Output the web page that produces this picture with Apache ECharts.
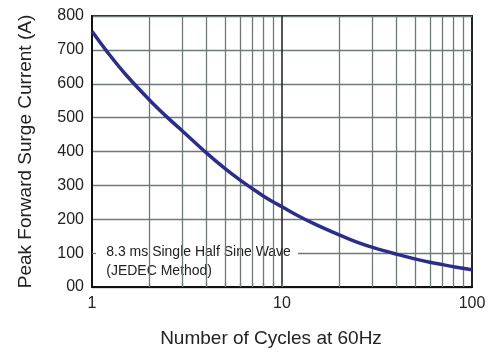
<!DOCTYPE html>
<html>
<head>
<meta charset="utf-8">
<script src="https://cdn.jsdelivr.net/npm/echarts@6/dist/echarts.min.js"></script>
<style>
html,body{margin:0;padding:0;background:#fff;}
#chart{width:492px;height:353px;}
</style>
</head>
<body>
<div id="chart"></div>
<script>
// Surge curve data (cycles vs peak forward surge current)
const cycles = [1, 1.2, 1.5, 2, 2.5, 3, 4, 5, 6, 7, 8, 9, 10, 12, 15, 20, 25, 30, 40, 50, 60, 70, 80, 100];
const current = [755, 695, 628, 553, 500, 460, 396, 350, 316, 290, 268, 251, 237, 212, 185, 154, 132, 117, 97, 83, 73, 66, 60, 51];
// log grid minor lines
const minorGridX = [2, 3, 4, 5, 6, 7, 8, 9, 20, 30, 40, 50, 60, 70, 80, 90];
const majorGridX = [10];
const boxTickX = [2, 3, 4, 5, 6, 7, 8, 9, 10];
const yTicks = [0, 100, 200, 300, 400, 500, 600, 700, 800];
const xTickLabels = [1, 10, 100];
const noteText = ['8.3 ms Single Half Sine Wave', '(JEDEC Method)'];
const xName = 'Number of Cycles at 60Hz';
const yName = 'Peak Forward Surge Current (A)';
// annotation box extent in data units
const boxCorner1 = [1.015, 3];
const boxCorner2 = [12.15, 155];

const chart = echarts.init(document.getElementById('chart'), null, {renderer: 'canvas'});
const font = 'Liberation Sans, Arial, Helvetica, sans-serif';
const gridColor = '#6e7a76';

const option = {
  animation: false,
  backgroundColor: '#fff',
  grid: {left: 92, right: 20, top: 16, bottom: 64, show: true, borderColor: '#222', borderWidth: 2, backgroundColor: 'transparent'},
  xAxis: {
    type: 'log', logBase: 10, min: 1, max: 100,
    name: xName, nameLocation: 'middle', nameGap: 42,
    nameTextStyle: {fontSize: 19, color: '#222', fontFamily: font, padding: [0, 22, 0, 0]},
    axisLine: {show: true, lineStyle: {color: '#111', width: 2}},
    axisTick: {show: false},
    axisLabel: {fontSize: 16, color: '#222', fontFamily: font, margin: 9,
      formatter: v => (xTickLabels.indexOf(Math.round(v)) >= 0 ? String(Math.round(v)) : '')},
    splitLine: {show: false},
    minorSplitLine: {show: false}
  },
  yAxis: {
    type: 'value', min: 0, max: 800, interval: 100,
    name: yName, nameLocation: 'middle', nameGap: 57,
    nameTextStyle: {fontSize: 19, color: '#222', fontFamily: font},
    axisLine: {show: true, lineStyle: {color: '#111', width: 2}},
    axisTick: {show: false},
    axisLabel: {fontSize: 16, color: '#222', fontFamily: font, margin: 8,
      formatter: v => (v === 0 ? '00' : String(v))},
    splitLine: {show: true, lineStyle: {color: gridColor, width: 1.3}}
  },
  series: [
    {
      name: 'grid', type: 'line', data: [], z: 1, silent: true,
      markLine: {
        silent: true, symbol: 'none', animation: false,
        label: {show: false},
        data: minorGridX.map(x => ({xAxis: x, lineStyle: {color: gridColor, width: 1.3, type: 'solid'}}))
          .concat(majorGridX.map(x => ({xAxis: x, lineStyle: {color: '#2a2a2a', width: 1.6, type: 'solid'}})))
      }
    },
    {
      name: 'box', type: 'line', data: [], z: 3, silent: true,
      markArea: {
        silent: true,
        itemStyle: {color: '#ffffff', opacity: 1, borderWidth: 0},
        label: {show: true, position: [13, 8], color: '#222', fontSize: 14, lineHeight: 19, fontFamily: font,
          formatter: noteText.join('\n')},
        data: [[{coord: boxCorner1}, {coord: boxCorner2}]]
      }
    },
    {
      name: 'ticks', type: 'line', data: [], z: 4, silent: true,
      markLine: {
        silent: true, symbol: 'none', animation: false,
        label: {show: false},
        lineStyle: {color: gridColor, width: 1.3, type: 'solid'},
        data: boxTickX.map(x => [{coord: [x, 0]}, {coord: [x, 12]}])
          .concat([[{coord: [1, yTicks[1]]}, {coord: [1.05, yTicks[1]]}]])
      }
    },
    {
      name: 'surge', type: 'line', smooth: 0.4, symbol: 'none', z: 5,
      lineStyle: {color: '#2b2d8c', width: 3.5},
      data: cycles.map((c, i) => [c, current[i]])
    }
  ]
};
chart.setOption(option);
</script>
</body>
</html>
